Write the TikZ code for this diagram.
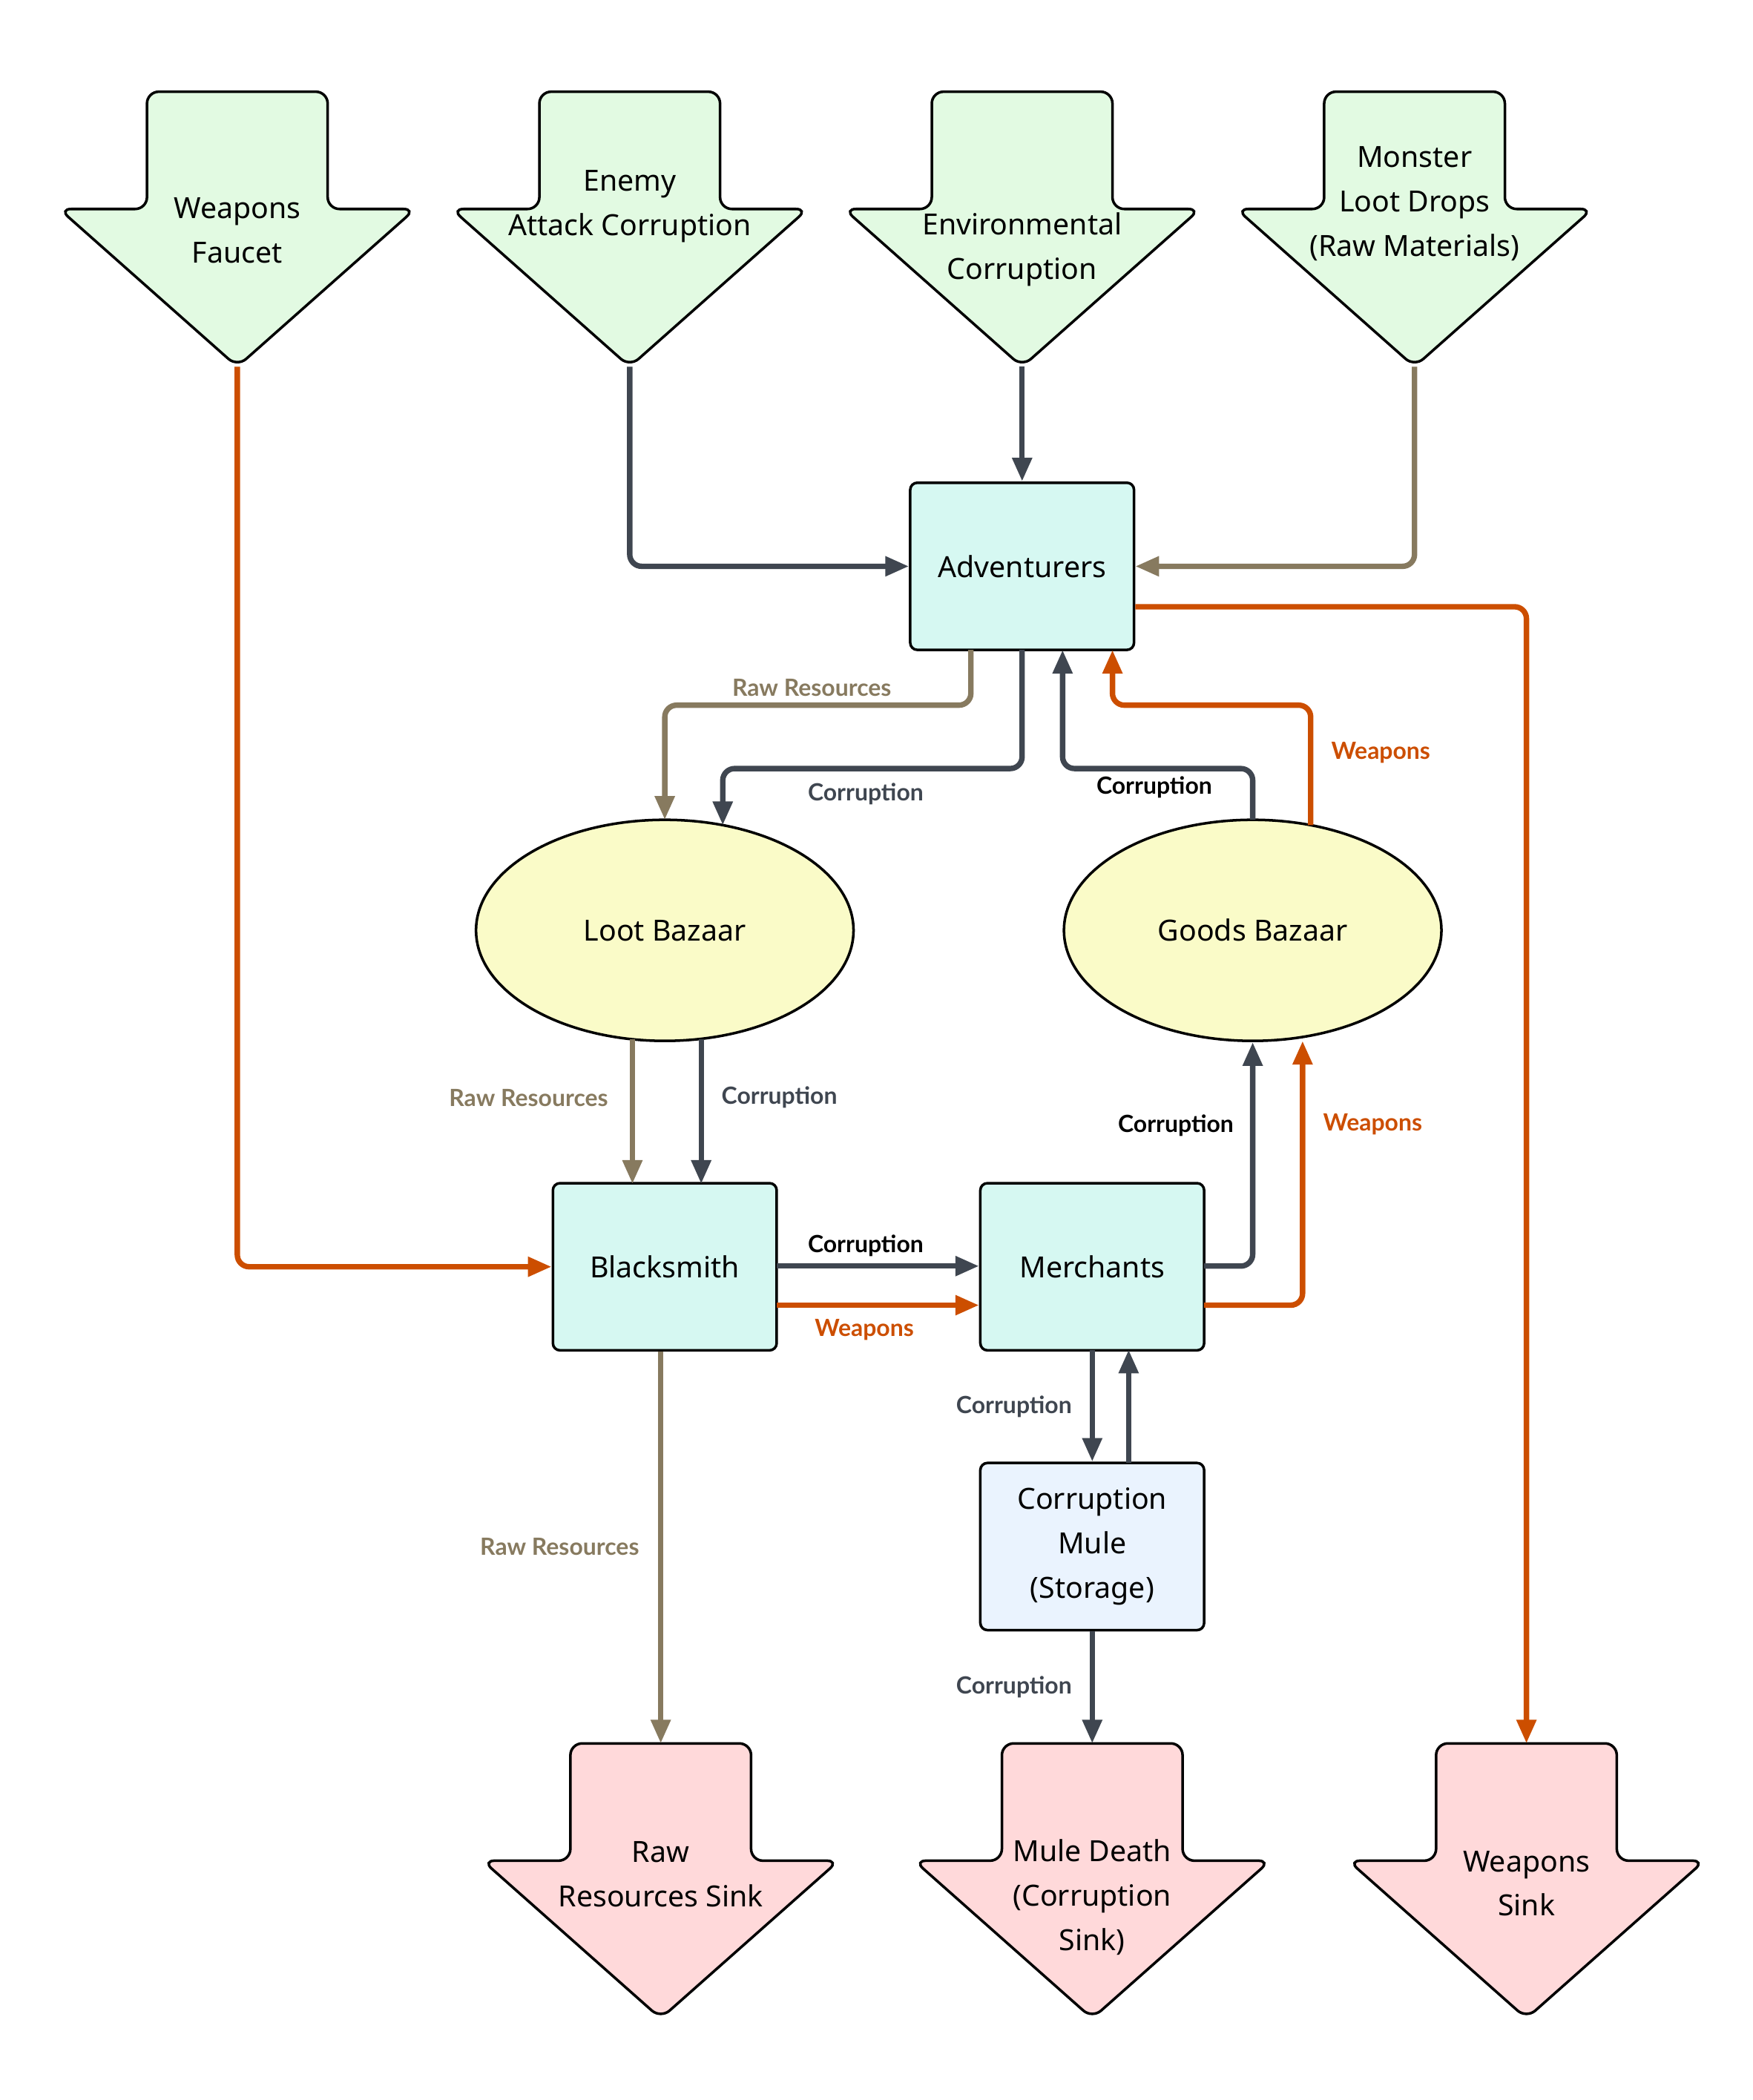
\documentclass[tikz,border=0pt]{standalone}
\usepackage{fontspec}
\setmainfont{Noto Sans}
\newfontfamily\labfont{Lato}
\usetikzlibrary{arrows.meta,shapes.geometric}
\definecolor{cor}{HTML}{3F4650}
\definecolor{wep}{HTML}{CC4E00}
\definecolor{raw}{HTML}{877A5F}
\definecolor{gfill}{HTML}{E2FAE2}
\definecolor{pfill}{HTML}{FFD9DA}
\definecolor{cfill}{HTML}{D6F8F2}
\definecolor{bfill}{HTML}{EAF3FE}
\definecolor{yfill}{HTML}{FAFBC8}
\newcommand{\dnarrow}[5]{% cx, top, fill, name, text
  \draw[line width=1.1pt,rounded corners=5pt,fill=#3] ({#1-67},#2) -- ({#1+67},#2) -- ({#1+67},{#2+87}) -- ({#1+132},{#2+87}) -- (#1,{#2+204}) -- ({#1-132},{#2+87}) -- ({#1-67},{#2+87}) -- cycle;
  \coordinate (#4-top) at (#1,#2);
  \coordinate (#4-tip) at (#1,{#2+204});
}
\begin{document}
\begin{tikzpicture}[x=0.02cm,y=-0.02cm,
  txt/.style={align=center,font=\fontsize{12.3}{18.7}\selectfont},
  box/.style={draw,line width=1.1pt,rounded corners=3pt,minimum width=3.32cm,minimum height=2.48cm,inner sep=0,txt},
  ell/.style={draw,line width=1.1pt,ellipse,minimum width=5.6cm,minimum height=3.28cm,fill=yfill,txt},
  e/.style={line width=2.3pt,-{Triangle[length=10pt,width=8pt]}},
  lab/.style={font=\labfont\bfseries\fontsize{10}{11}\selectfont,inner sep=1pt}]
\useasboundingbox (0,0) rectangle (1300,1557.5);
\dnarrow{176}{68}{gfill}{wf}{}
\dnarrow{467}{68}{gfill}{ea}{}
\dnarrow{758}{68}{gfill}{ec}{}
\dnarrow{1049}{68}{gfill}{ml}{}
\dnarrow{490}{1293}{pfill}{rs}{}
\dnarrow{810}{1293}{pfill}{md}{}
\dnarrow{1132}{1293}{pfill}{ws}{}
\node[txt] (wft) at (176,171) {Weapons\\Faucet};
\node[txt] (eat) at (467,153) {Enemy\\Attack Corruption};
\node[txt] (ect) at (758,185) {Environmental\\Corruption};
\node[txt] (mlt) at (1049,151) {Monster\\Loot Drops\\(Raw Materials)};
\node[txt] (rst) at (490,1390) {Raw\\Resources Sink};
\node[txt] (mdt) at (810,1407) {Mule Death\\(Corruption\\Sink)};
\node[txt] (wst) at (1132,1397) {Weapons\\Sink};
\node[box,fill=cfill] (adv) at (758,420) {Adventurers};
\node[box,fill=cfill] (bs) at (493,939.5) {Blacksmith};
\node[box,fill=cfill] (mer) at (810,939.5) {Merchants};
\node[box,fill=bfill] (mule) at (810,1147) {Corruption\\Mule\\(Storage)};
\node[ell] (loot) at (493,690) {Loot Bazaar};
\node[ell] (goods) at (929,690) {Goods Bazaar};
\begin{scope}[rounded corners=5pt]
\draw[e,wep] (wf-tip) |- (bs.west);
\draw[e,cor] (ea-tip) |- (adv.west);
\draw[e,cor] (ec-tip) -- (adv.north);
\draw[e,raw] (ml-tip) |- (adv.east);
\draw[e,wep] (adv.east |- 0,450) -| (ws-top);
\draw[e,raw] (720,482) -- (720,523) -- (493,523) -- (493,608);
\node[lab,text=raw] at (602,510) {Raw Resources};
\draw[e,cor] (758,482) -- (758,570) -- (536,570) -- (536,612);
\node[lab,text=cor] at (642,589) {Corruption};
\draw[e,cor] (929,608) -- (929,570) -- (788,570) -- (788,482);
\node[lab,text=black] at (856,584) {Corruption};
\draw[e,wep] (972,612) -- (972,523) -- (825,523) -- (825,482);
\node[lab,text=wep] at (1024,558) {Weapons};
\draw[e,raw] (469,771) -- (469,878);
\node[lab,text=raw] at (392,814) {Raw Resources};
\draw[e,cor] (520,771) -- (520,878);
\node[lab,text=cor] at (578,814) {Corruption};
\draw[e,cor] (576,939) -- (mer.west |- 0,939);
\node[lab,text=black] at (642,924) {Corruption};
\draw[e,wep] (576,968) -- (mer.west |- 0,968);
\node[lab,text=wep] at (641,986) {Weapons};
\draw[e,cor] (893,939) -- (929,939) -- (goods.south);
\node[lab,text=black] at (872,835) {Corruption};
\draw[e,wep] (893,968) -- (966,968) -- (966,772);
\node[lab,text=wep] at (1018,834) {Weapons};
\draw[e,cor] (810,1001) -- (mule.north);
\draw[e,cor] (837,1085) -- (837,1001);
\node[lab,text=cor] at (752,1043) {Corruption};
\draw[e,raw] (rs-top |- bs.south) -- (rs-top);
\node[lab,text=raw] at (415,1147) {Raw Resources};
\draw[e,cor] (mule.south) -- (md-top);
\node[lab,text=cor] at (752,1251) {Corruption};
\end{scope}
\end{tikzpicture}
\end{document}
